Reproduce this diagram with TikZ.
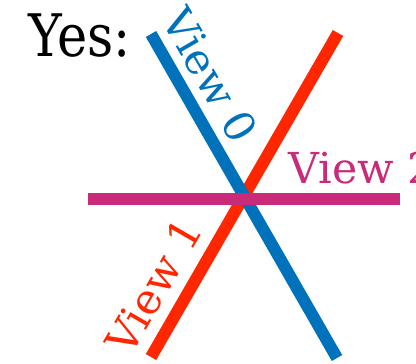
\documentclass[tikz,border=0pt]{standalone}
\usepackage{fontspec}
\setmainfont{DejaVu Serif}
\newfontfamily\yesfont[FakeStretch=0.87]{DejaVu Serif}
\definecolor{viewblue}{RGB}{0,114,187}
\definecolor{viewred}{RGB}{255,38,0}
\definecolor{viewpink}{RGB}{201,43,122}
\begin{document}
\begin{tikzpicture}[x=0.75pt, y=-0.75pt,
    viewline/.style={line width=9pt},
    viewlabel/.style={font=\fontsize{32}{36}\selectfont, inner sep=0pt}]
    \useasboundingbox (0,0) rectangle (416,363);
    % Enden der Linien
    \coordinate (b0) at (151,34);
    \coordinate (b1) at (337,358);
    \coordinate (r0) at (338,33);
    \coordinate (r1) at (151,357);
    \coordinate (m0) at (88,199);
    \coordinate (m1) at (400,199);

    % Linien
    \draw[viewline, viewred] (r1) -- (r0);
    \draw[viewline, viewblue] (b0) -- (b1);
    \draw[viewline, viewpink] (m0) -- (m1);

    % Beschriftung
    \node[font=\yesfont\fontsize{44}{48}\selectfont, anchor=base west, inner sep=0pt] (yes) at (28,57) {Yes:};
    \node[viewlabel, viewblue, rotate=-60] (v0) at (210,75) {View 0};
    \node[viewlabel, viewred, rotate=60] (v1) at (154,286) {View 1};
    \node[viewlabel, viewpink, anchor=base west] (v2) at (288,183) {View 2};
\end{tikzpicture}
\end{document}
